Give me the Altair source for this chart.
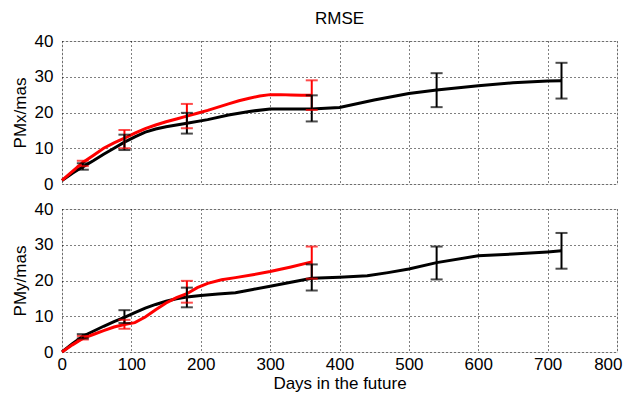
import altair as alt
import pandas as pd

# ---- data ----
top_black_days = [0,15,30,45,60,75,90,105,120,135,150,165,180,210,240,270,300,330,360,400,450,500,540,600,650,700,720]
top_black_vals = [1,3,4.8,6.5,8.3,10,11.7,13.2,14.5,15.4,16,16.5,17,18,19.3,20.3,21,21,21,21.4,23.5,25.3,26.3,27.5,28.3,28.8,28.9]
top_red_days = [0,15,30,45,60,75,90,105,120,135,150,165,180,195,210,225,240,255,270,285,300,315,330,345,360]
top_red_vals = [1,3.5,6,8,10,11.5,12.8,14.2,15.5,16.5,17.4,18.2,19,19.8,20.6,21.5,22.4,23.3,24,24.6,25,25,24.9,24.8,24.8]
top_black_err_days = [30,90,180,360,540,720]
top_black_err_lo = [4,9.5,14.1,17.5,21.5,23.9]
top_black_err_hi = [5.8,13.8,19.9,24.8,31,33.9]
top_red_err_days = [30,90,180,360]
top_red_err_lo = [5,10,15.6,20.7]
top_red_err_hi = [6.5,15.1,22.4,29]

bot_black_days = [0,15,30,45,60,75,90,105,120,135,150,165,180,200,225,250,275,300,330,360,400,440,470,500,540,600,650,700,720]
bot_black_vals = [0,2.3,4.4,5.8,7.2,8.5,9.7,11,12.3,13.3,14.2,14.9,15.4,15.8,16.2,16.6,17.5,18.4,19.5,20.6,20.9,21.3,22.2,23.2,25,26.9,27.4,28,28.3]
bot_red_days = [0,15,30,45,60,75,90,105,120,135,150,165,180,195,210,230,250,275,300,330,360]
bot_red_vals = [0,2,3.8,4.9,6,7,7.7,8.2,9.8,11.8,13.7,15.2,16.3,18,19.2,20.2,20.8,21.6,22.5,23.8,25.2]
bot_black_err_days = [30,90,180,360,540,720]
bot_black_err_lo = [3.8,8.1,12.5,17.2,20.3,23.3]
bot_black_err_hi = [5,11.7,18,24.5,29.5,33.3]
bot_red_err_days = [30,90,180,360]
bot_red_err_lo = [3.5,6.5,13.8,20.5]
bot_red_err_hi = [4.5,9,19.9,29.5]

x_ticks = [0,100,200,300,400,500,600,700,800]
y_ticks = [0,10,20,30,40]

FONT = "Liberation Sans"
FS = 17


def panel(bd, bv, rd, rv, bed, bel, beh, red, rel, reh, ytitle, show_x):
    lines = pd.concat([
        pd.DataFrame({"d": bd, "v": bv, "s": "black"}),
        pd.DataFrame({"d": rd, "v": rv, "s": "red"}),
    ])
    errs = pd.concat([
        pd.DataFrame({"d": red, "lo": rel, "hi": reh, "s": "red"}),
        pd.DataFrame({"d": bed, "lo": bel, "hi": beh, "s": "black"}),
    ])
    if show_x:
        xaxis = alt.Axis(
            values=x_ticks, grid=True, gridDash=[1, 3], gridColor="black", gridOpacity=1,
            ticks=False, domain=False, labelOverlap=False, labelFlush=True, labelFlushOffset=5,
            title="Days in the future",
            labelFont=FONT, labelFontSize=FS, labelColor="black", labelPadding=4,
            titleFont=FONT, titleFontSize=FS, titleFontWeight="normal", titleColor="black",
            titlePadding=3,
        )
    else:
        xaxis = alt.Axis(
            values=x_ticks, grid=True, gridDash=[1, 3], gridColor="black", gridOpacity=1,
            ticks=False, domain=False, labels=False, title=None,
            labelPadding=0, minExtent=0, maxExtent=0,
        )
    yaxis = alt.Axis(
        values=y_ticks, grid=True, gridDash=[1, 3], gridColor="black", gridOpacity=1,
        ticks=False, domain=False, title=ytitle, labelOverlap=False, labelFlush=False,
        labelFont=FONT, labelFontSize=FS, labelColor="black", labelPadding=9,
        titleFont=FONT, titleFontSize=FS, titleFontWeight="normal", titleColor="black",
        titlePadding=5,
    )
    xs = alt.Scale(domain=[0, 800], nice=False)
    ys = alt.Scale(domain=[0, 40], nice=False)
    color = alt.Color("s:N", scale=alt.Scale(domain=["black", "red"], range=["#000000", "#ff0000"]), legend=None)

    line = alt.Chart(lines).mark_line(strokeWidth=3).encode(
        x=alt.X("d:Q", scale=xs, axis=xaxis), y=alt.Y("v:Q", scale=ys, axis=yaxis),
        color=color, detail="s:N")
    rule = alt.Chart(errs).mark_rule(strokeWidth=2).encode(
        x=alt.X("d:Q", scale=xs, axis=xaxis), y=alt.Y("lo:Q", scale=ys, axis=yaxis), y2="hi:Q", color=color)
    cap_lo = alt.Chart(errs).mark_tick(orient="horizontal", size=12, thickness=2).encode(
        x=alt.X("d:Q", scale=xs, axis=xaxis), y=alt.Y("lo:Q", scale=ys, axis=yaxis), color=color)
    cap_hi = alt.Chart(errs).mark_tick(orient="horizontal", size=12, thickness=2).encode(
        x=alt.X("d:Q", scale=xs, axis=xaxis), y=alt.Y("hi:Q", scale=ys, axis=yaxis), color=color)
    return alt.layer(line, rule, cap_lo, cap_hi).properties(width=555, height=143)


top = panel(top_black_days, top_black_vals, top_red_days, top_red_vals,
            top_black_err_days, top_black_err_lo, top_black_err_hi,
            top_red_err_days, top_red_err_lo, top_red_err_hi, "PMx/mas", False)
bot = panel(bot_black_days, bot_black_vals, bot_red_days, bot_red_vals,
            bot_black_err_days, bot_black_err_lo, bot_black_err_hi,
            bot_red_err_days, bot_red_err_lo, bot_red_err_hi, "PMy/mas", True)

top = top.properties(title=alt.TitleParams("RMSE", font=FONT, fontSize=FS, fontWeight="normal",
                                           color="black", anchor="middle", offset=4))

chart = alt.vconcat(top, bot, spacing=6).configure_view(
    stroke="black", strokeWidth=1
).configure(background="white", padding={"left": 2, "top": 1, "right": 0, "bottom": 0})

chart.save("out.html", embed_options={"renderer": "svg", "actions": False})
